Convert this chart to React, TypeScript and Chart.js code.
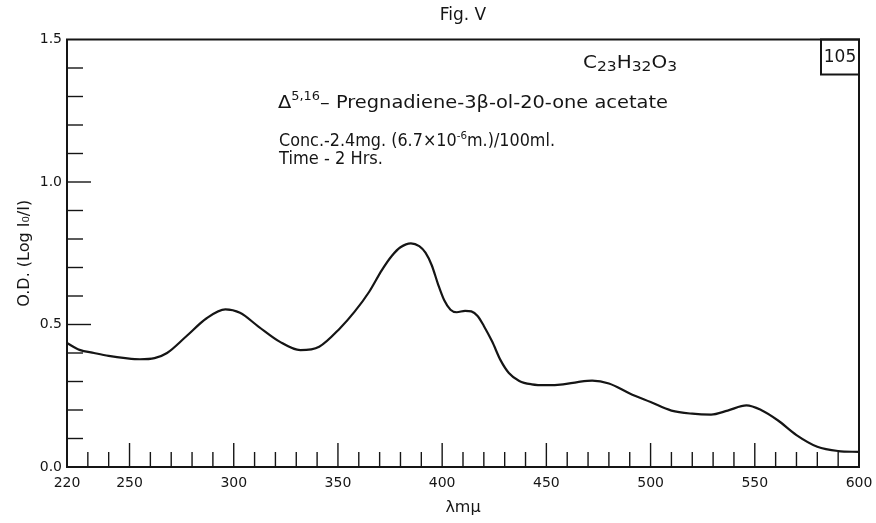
import React, { useEffect, useRef } from 'react';
import { Chart, registerables } from 'chart.js';

Chart.register(...registerables);

// ---- data ----
const wavelengths = [220, 226, 233, 240, 248, 255, 262, 268, 277, 287, 296, 303, 312, 322, 332, 341, 351, 358, 365, 371, 376, 380, 385, 389, 392, 395, 398, 401, 404, 407, 411, 414, 417, 420, 424, 428, 432, 437, 443, 450, 458, 465, 472, 480, 490, 500, 510, 520, 529, 537, 546, 553, 561, 570, 580, 590, 600];
const opticalDensity = [0.435, 0.411, 0.400, 0.390, 0.382, 0.378, 0.382, 0.400, 0.457, 0.522, 0.553, 0.541, 0.492, 0.440, 0.410, 0.422, 0.487, 0.545, 0.615, 0.690, 0.742, 0.771, 0.785, 0.775, 0.752, 0.708, 0.642, 0.585, 0.552, 0.543, 0.548, 0.546, 0.530, 0.495, 0.440, 0.375, 0.330, 0.302, 0.290, 0.287, 0.290, 0.298, 0.303, 0.293, 0.258, 0.228, 0.198, 0.187, 0.184, 0.198, 0.216, 0.200, 0.164, 0.112, 0.071, 0.056, 0.053];
const xLabelValues = [220, 250, 300, 350, 400, 450, 500, 550, 600];
const yLabelValues = [0, 0.5, 1.0, 1.5];
const xMajorTicks = [250, 300, 350, 400, 450, 500, 550];
const yMajorTicks = [0.5, 1.0];

const figureTitle = 'Fig. Ⅴ';
const formulaRuns = [
  { text: 'C', sub: false }, { text: '23', sub: true },
  { text: 'H', sub: false }, { text: '32', sub: true },
  { text: 'O', sub: false }, { text: '3', sub: true },
];
const plateNumber = '105';
const compoundRuns = [
  { text: 'Δ', sup: false }, { text: '5,16', sup: true },
  { text: '– Pregnadiene-3β-ol-20-one acetate', sup: false },
];
const concRuns = [
  { text: 'Conc.-2.4mg. (6.7×10', sup: false }, { text: '-6', sup: true },
  { text: 'm.)/100ml.', sup: false },
];
const timeText = 'Time - 2 Hrs.';
const yAxisTitle = 'O.D. (Log I₀/I)';
const xAxisTitle = 'λmμ';

const FONT = '"DejaVu Sans", "Noto Sans", sans-serif';
const INK = '#151515';

type Run = { text: string; size: number; dy: number };

function drawRuns(ctx: CanvasRenderingContext2D, x: number, y: number, runs: Run[], targetWidth?: number) {
  ctx.save();
  let total = 0;
  for (const r of runs) {
    ctx.font = `${r.size}px ${FONT}`;
    total += ctx.measureText(r.text).width;
  }
  let sx = 1;
  if (targetWidth) sx = Math.max(0.75, Math.min(1.25, targetWidth / total));
  ctx.translate(x, y);
  ctx.scale(sx, 1);
  let cx = 0;
  ctx.textBaseline = 'alphabetic';
  ctx.textAlign = 'left';
  ctx.fillStyle = INK;
  for (const r of runs) {
    ctx.font = `${r.size}px ${FONT}`;
    ctx.fillText(r.text, cx, r.dy);
    cx += ctx.measureText(r.text).width;
  }
  ctx.restore();
}

const decorPlugin = {
  id: 'decor',
  afterDraw(chart: any) {
    const ctx: CanvasRenderingContext2D = chart.ctx;
    const { left, top, right, bottom } = chart.chartArea;
    const xs = chart.scales.x;
    const ys = chart.scales.y;
    ctx.save();
    ctx.strokeStyle = INK;
    ctx.lineCap = 'butt';

    // frame
    ctx.lineWidth = 2;
    ctx.strokeRect(left, top, right - left, bottom - top);

    // inward x ticks
    ctx.lineWidth = 1.4;
    xs.ticks.forEach((t: any) => {
      const v = t.value;
      if (v <= xs.min || v >= xs.max) return;
      const px = xs.getPixelForValue(v);
      const len = xMajorTicks.includes(v) ? 24 : 15;
      ctx.beginPath();
      ctx.moveTo(px, bottom);
      ctx.lineTo(px, bottom - len);
      ctx.stroke();
    });
    // inward y ticks
    ys.ticks.forEach((t: any) => {
      const v = Math.round(t.value * 10) / 10;
      if (v <= ys.min || v >= ys.max) return;
      const py = ys.getPixelForValue(v);
      const len = yMajorTicks.includes(v) ? 24 : 16;
      ctx.beginPath();
      ctx.moveTo(left, py);
      ctx.lineTo(left + len, py);
      ctx.stroke();
    });

    // title
    ctx.fillStyle = INK;
    ctx.font = `17px ${FONT}`;
    ctx.textAlign = 'center';
    ctx.textBaseline = 'middle';
    ctx.fillText(figureTitle, (left + right) / 2, 16);

    // plate number box
    ctx.lineWidth = 2;
    ctx.strokeRect(right - 38, top, 38, 35);
    ctx.font = `17px ${FONT}`;
    ctx.fillText(plateNumber, right - 19, top + 18);
    ctx.restore();

    // formula
    drawRuns(ctx, 583, 68, formulaRuns.map(r => ({ text: r.text, size: r.sub ? 14 : 18, dy: r.sub ? 3 : 0 })), 94);
    // compound name
    drawRuns(ctx, 278, 108, compoundRuns.map(r => ({ text: r.text, size: r.sup ? 12 : 18, dy: r.sup ? -8 : 0 })), 390);
    // concentration
    drawRuns(ctx, 279, 146, concRuns.map(r => ({ text: r.text, size: r.sup ? 11 : 17, dy: r.sup ? -7 : 0 })), 276);
    // time
    drawRuns(ctx, 279, 164, [{ text: timeText, size: 17, dy: 0 }], 104);
  },
};

export default function App() {
  const canvasRef = useRef<HTMLCanvasElement | null>(null);

  useEffect(() => {
    const canvas = canvasRef.current;
    if (!canvas) return;
    const points = wavelengths.map((w, i) => ({ x: w, y: opticalDensity[i] }));
    const chart = new Chart(canvas, {
      type: 'line',
      data: {
        datasets: [
          {
            data: points,
            borderColor: INK,
            borderWidth: 2.2,
            pointRadius: 0,
            fill: false,
            cubicInterpolationMode: 'monotone',
          },
        ],
      },
      options: {
        animation: false,
        responsive: true,
        maintainAspectRatio: false,
        layout: { padding: { top: 39.5, right: 17, bottom: 0, left: 0 } },
        plugins: {
          legend: { display: false },
          tooltip: { enabled: false },
          title: { display: false },
        },
        scales: {
          x: {
            type: 'linear',
            min: 220,
            max: 600,
            afterFit: (scale: any) => {
              scale.height = 56;
              scale.paddingLeft = 0;
              scale.paddingRight = 0;
            },
            grid: { display: false, drawTicks: false },
            border: { display: false },
            ticks: {
              stepSize: 10,
              autoSkip: false,
              maxRotation: 0,
              padding: 8,
              color: INK,
              font: { family: FONT, size: 14 },
              callback: (v: any) => (xLabelValues.includes(Number(v)) ? String(v) : ''),
            },
            title: {
              display: true,
              text: xAxisTitle,
              color: INK,
              font: { family: FONT, size: 16 },
              padding: { top: 0, bottom: 6 },
            },
          },
          y: {
            type: 'linear',
            min: 0,
            max: 1.5,
            afterFit: (scale: any) => {
              scale.width = 67;
              scale.paddingTop = 0;
              scale.paddingBottom = 0;
            },
            grid: { display: false, drawTicks: false },
            border: { display: false },
            ticks: {
              stepSize: 0.1,
              autoSkip: false,
              padding: 5,
              color: INK,
              font: { family: FONT, size: 14 },
              callback: (v: any) => {
                const n = Math.round(Number(v) * 10) / 10;
                return yLabelValues.includes(n) ? n.toFixed(1) : '';
              },
            },
            title: {
              display: true,
              text: yAxisTitle,
              color: INK,
              font: { family: FONT, size: 16 },
              padding: { top: 15, bottom: 0 },
            },
          },
        },
      },
      plugins: [decorPlugin],
    });
    return () => chart.destroy();
  }, []);

  return (
    <div style={{ position: 'fixed', left: 0, top: 0, width: 876, height: 523, background: '#fff' }}>
      <canvas ref={canvasRef} />
    </div>
  );
}
